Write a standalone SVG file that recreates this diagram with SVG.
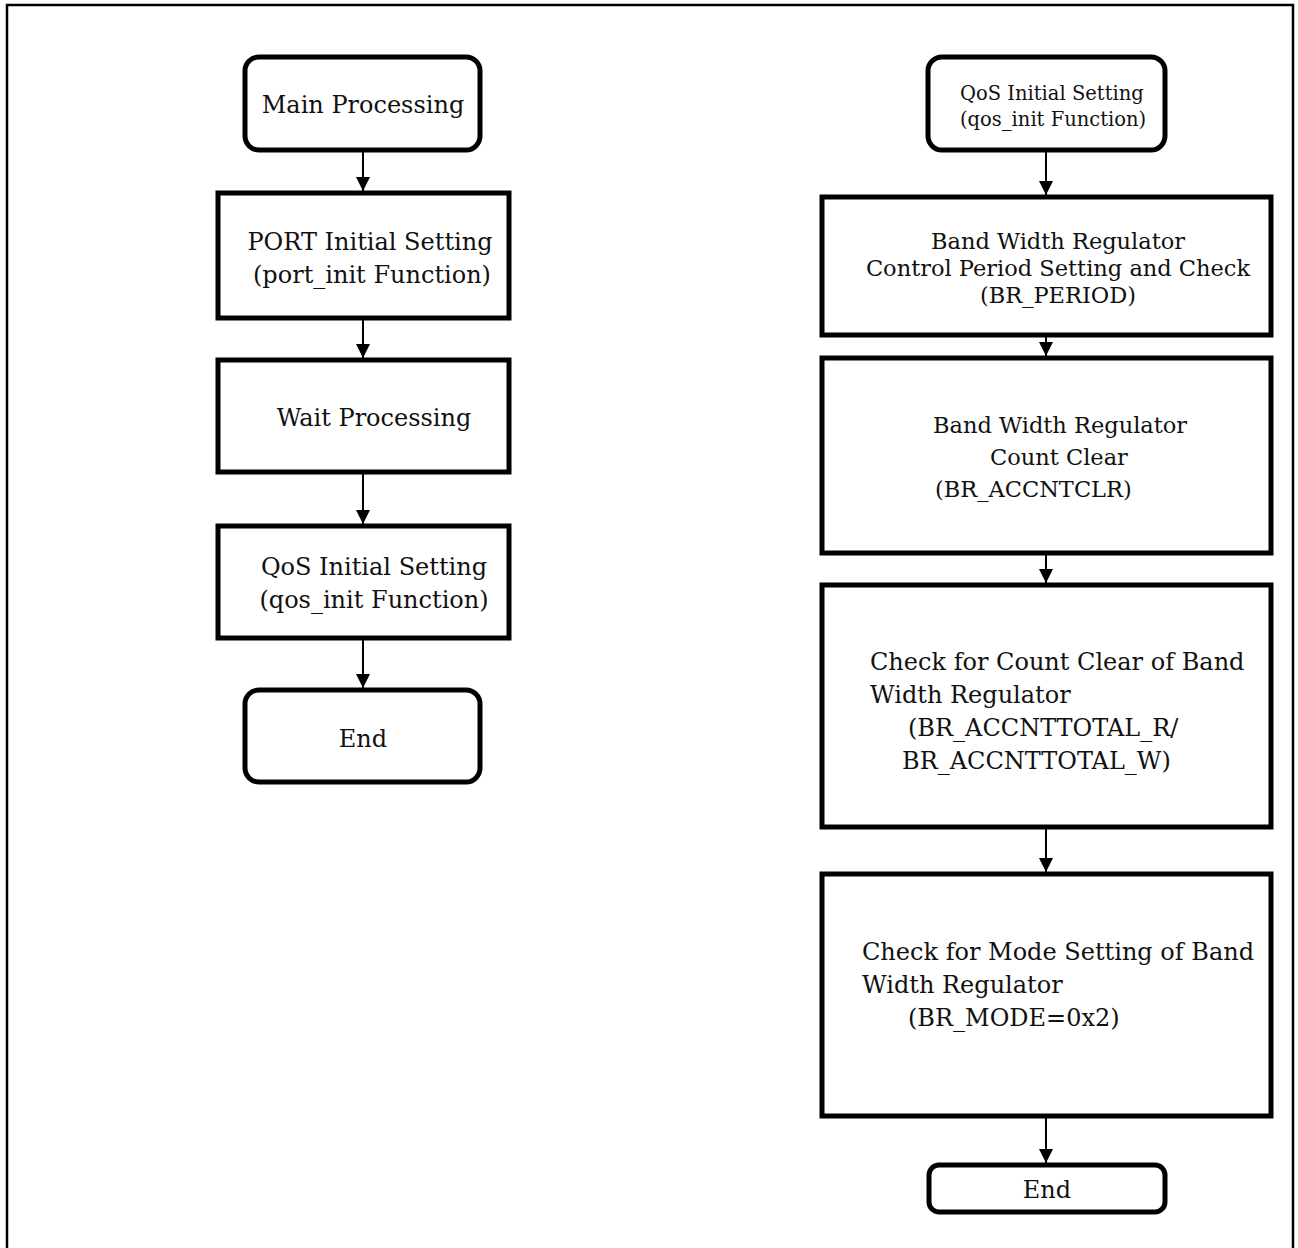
<svg xmlns="http://www.w3.org/2000/svg" width="1298" height="1248" viewBox="0 0 1298 1248">
  <defs>
    <marker id="arrow" viewBox="0 0 14 14" refX="14" refY="7" markerWidth="14" markerHeight="14" markerUnits="userSpaceOnUse" orient="auto">
      <path d="M0,0 L14,7 L0,14 Z" fill="#000"/>
    </marker>
    <style>
      .box { fill: #fff; stroke: #000; stroke-width: 5; }
      .frame { fill: none; stroke: #000; stroke-width: 2.5; }
      .edge { fill: none; stroke: #000; stroke-width: 2; marker-end: url(#arrow); }
      text { font-family: "DejaVu Serif", "Liberation Serif", serif; font-size: 24px; fill: #111; }
      .c { text-anchor: middle; }
      .mid { font-size: 22.5px; }
      .small { font-size: 19.5px; }
    </style>
  </defs>

  <rect class="frame" x="7" y="5" width="1286" height="1262"/>

  <!-- connectors -->
  <g id="connectors">
    <line class="edge" x1="363" y1="150" x2="363" y2="191"/>
    <line class="edge" x1="363" y1="318" x2="363" y2="358"/>
    <line class="edge" x1="363" y1="472" x2="363" y2="524"/>
    <line class="edge" x1="363" y1="638" x2="363" y2="688"/>
    <line class="edge" x1="1046" y1="150" x2="1046" y2="195"/>
    <line class="edge" x1="1046" y1="335" x2="1046" y2="356"/>
    <line class="edge" x1="1046" y1="553" x2="1046" y2="583"/>
    <line class="edge" x1="1046" y1="827" x2="1046" y2="872"/>
    <line class="edge" x1="1046" y1="1116" x2="1046" y2="1163"/>
  </g>

  <!-- left flow: main processing -->
  <g id="main-start">
    <rect class="box" x="245" y="57" width="235" height="93" rx="14"/>
    <text class="c" x="363" y="113">Main Processing</text>
  </g>
  <g id="port-init">
    <rect class="box" x="218" y="193" width="291" height="125"/>
    <text class="c" x="370" y="250">PORT Initial Setting</text>
    <text class="c" x="372" y="283">(port_init Function)</text>
  </g>
  <g id="wait">
    <rect class="box" x="218" y="360" width="291" height="112"/>
    <text class="c" x="374" y="426">Wait Processing</text>
  </g>
  <g id="qos-call">
    <rect class="box" x="218" y="526" width="291" height="112"/>
    <text class="c" x="374" y="575">QoS Initial Setting</text>
    <text class="c" x="374" y="608">(qos_init Function)</text>
  </g>
  <g id="main-end">
    <rect class="box" x="245" y="690" width="235" height="92" rx="14"/>
    <text class="c" x="363" y="747">End</text>
  </g>

  <!-- right flow: qos_init -->
  <g id="qos-start">
    <rect class="box" x="928" y="57" width="237" height="93" rx="14"/>
    <text class="small" x="960" y="100">QoS Initial Setting</text>
    <text class="small" x="960" y="126">(qos_init Function)</text>
  </g>
  <g id="br-period">
    <rect class="box" x="822" y="197" width="449" height="138"/>
    <text class="c mid" x="1058" y="249">Band Width Regulator</text>
    <text class="c mid" x="1058" y="276">Control Period Setting and Check</text>
    <text class="c mid" x="1058" y="303">(BR_PERIOD)</text>
  </g>
  <g id="br-accntclr">
    <rect class="box" x="822" y="358" width="449" height="195"/>
    <text class="mid" x="933" y="433">Band Width Regulator</text>
    <text class="mid" x="990" y="465">Count Clear</text>
    <text class="mid" x="935" y="497">(BR_ACCNTCLR)</text>
  </g>
  <g id="br-accnttotal">
    <rect class="box" x="822" y="585" width="449" height="242"/>
    <text x="870" y="670">Check for Count Clear of Band</text>
    <text x="870" y="703">Width Regulator</text>
    <text x="908" y="736">(BR_ACCNTTOTAL_R/</text>
    <text x="902" y="769">BR_ACCNTTOTAL_W)</text>
  </g>
  <g id="br-mode">
    <rect class="box" x="822" y="874" width="449" height="242"/>
    <text x="862" y="960">Check for Mode Setting of Band</text>
    <text x="862" y="993">Width Regulator</text>
    <text x="908" y="1026">(BR_MODE=0x2)</text>
  </g>
  <g id="qos-end">
    <rect class="box" x="929" y="1165" width="236" height="47" rx="10"/>
    <text class="c" x="1047" y="1198">End</text>
  </g>
</svg>
